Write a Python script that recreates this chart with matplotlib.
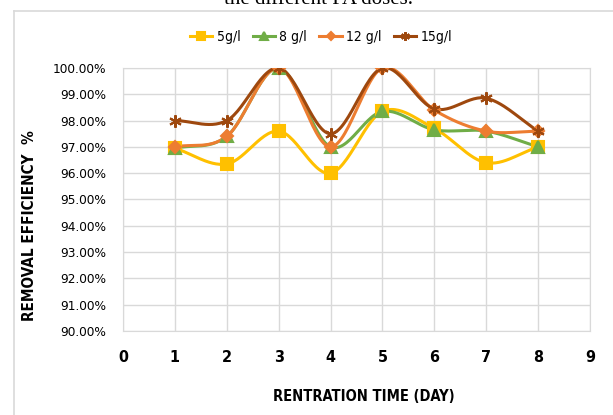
import numpy as np
import matplotlib.pyplot as plt
from matplotlib.ticker import PercentFormatter
from matplotlib.font_manager import FontProperties
from matplotlib.lines import Line2D

days = [1, 2, 3, 4, 5, 6, 7, 8]
eff_5 = [96.95, 96.35, 97.6, 96.0, 98.35, 97.7, 96.4, 97.0]
eff_8 = [96.95, 97.4, 100.0, 97.0, 98.35, 97.65, 97.6, 97.0]
eff_12 = [97.0, 97.4, 100.0, 97.0, 100.0, 98.4, 97.6, 97.6]
eff_15 = [98.0, 98.0, 100.0, 97.5, 100.0, 98.45, 98.85, 97.6]
labels = ['5g/l', '8 g/l', '12 g/l', '15g/l']


def narrow(size, weight='normal'):
    return FontProperties(family='DejaVu Sans', stretch='condensed', size=size, weight=weight)


def smooth(x, y, n=30):
    # catmull-rom curve through the points, like excel's smoothed line
    x = np.asarray(x, float)
    y = np.asarray(y, float)
    px = np.concatenate([[2 * x[0] - x[1]], x, [2 * x[-1] - x[-2]]])
    py = np.concatenate([[2 * y[0] - y[1]], y, [2 * y[-1] - y[-2]]])
    t = np.linspace(0, 1, n)
    xs, ys = [], []
    for i in range(1, len(px) - 2):
        for p, out in ((px, xs), (py, ys)):
            p0, p1, p2, p3 = p[i - 1], p[i], p[i + 1], p[i + 2]
            out.extend(0.5 * (2 * p1 + (-p0 + p2) * t
                              + (2 * p0 - 5 * p1 + 4 * p2 - p3) * t ** 2
                              + (-p0 + 3 * p1 - 3 * p2 + p3) * t ** 3))
    return np.array(xs), np.array(ys)


fig = plt.figure(figsize=(6.13, 4.15), dpi=100)
ax = fig.add_axes([123 / 613, 84 / 415, 467 / 613, 263 / 415])

# outer chart frame: only top and left edges are inside the image
fx, fy = 13.5 / 613, 1 - 11.5 / 415
fig.lines.append(Line2D([fx, 1.0], [fy, fy], transform=fig.transFigure,
                        color='#d9d9d9', linewidth=1.2))
fig.lines.append(Line2D([fx, fx], [0, fy], transform=fig.transFigure,
                        color='#d9d9d9', linewidth=1.2))

fig.text(0.52, 1.0, 'the different PA doses.', ha='center', va='center',
         fontsize=15, family='Liberation Serif')

series = [eff_5, eff_8, eff_12, eff_15]
colors = ['#ffc000', '#70ad47', '#ed7d31', '#9e480e']
markers = ['s', '^', 'D', (6, 2, 0)]
sizes = [9, 8, 6, 9]
for vals, c, m, s, lab in zip(series, colors, markers, sizes, labels):
    sx, sy = smooth(days, vals)
    ax.plot(sx, sy, color=c, linewidth=2.2, zorder=3)
    ax.plot(days, vals, linestyle='none', marker=m, markersize=s, color=c,
            markeredgecolor=c, markeredgewidth=1.5, zorder=4)
    ax.plot([], [], color=c, linewidth=2.2, marker=m, markersize=s * 0.7,
            markeredgecolor=c, markeredgewidth=1.5, label=lab)

ax.set_xlim(0, 9)
ax.set_ylim(90, 100)
ax.set_xticks(range(10))
ax.set_yticks(np.arange(90, 100.5, 1))
ax.yaxis.set_major_formatter(PercentFormatter(decimals=2))
ax.grid(True, color='#d9d9d9', linewidth=1)
ax.set_axisbelow(True)
for sp in ax.spines.values():
    sp.set_color('#d9d9d9')
ax.tick_params(length=0)
ax.tick_params(axis='y', pad=12)
ax.tick_params(axis='x', pad=14)
for t in ax.get_yticklabels():
    t.set_fontproperties(narrow(9.7))
for t in ax.get_xticklabels():
    t.set_fontproperties(narrow(11.5, 'bold'))

fig.text(364 / 613, 1 - 396 / 415, 'RENTRATION TIME (DAY)', ha='center', va='center',
         fontproperties=narrow(10.5, 'bold'))
fig.text(30 / 613, 1 - 226 / 415, 'REMOVAL EFFICIENCY  %', ha='center', va='center',
         rotation=90, fontproperties=narrow(11, 'bold'))

fig.legend(loc='center', bbox_to_anchor=(321 / 613, 1 - 37 / 415), ncol=4, frameon=False,
           handlelength=1.6, columnspacing=0.9, handletextpad=0.3,
           prop=narrow(10))

fig.savefig('out.png', dpi=100)
